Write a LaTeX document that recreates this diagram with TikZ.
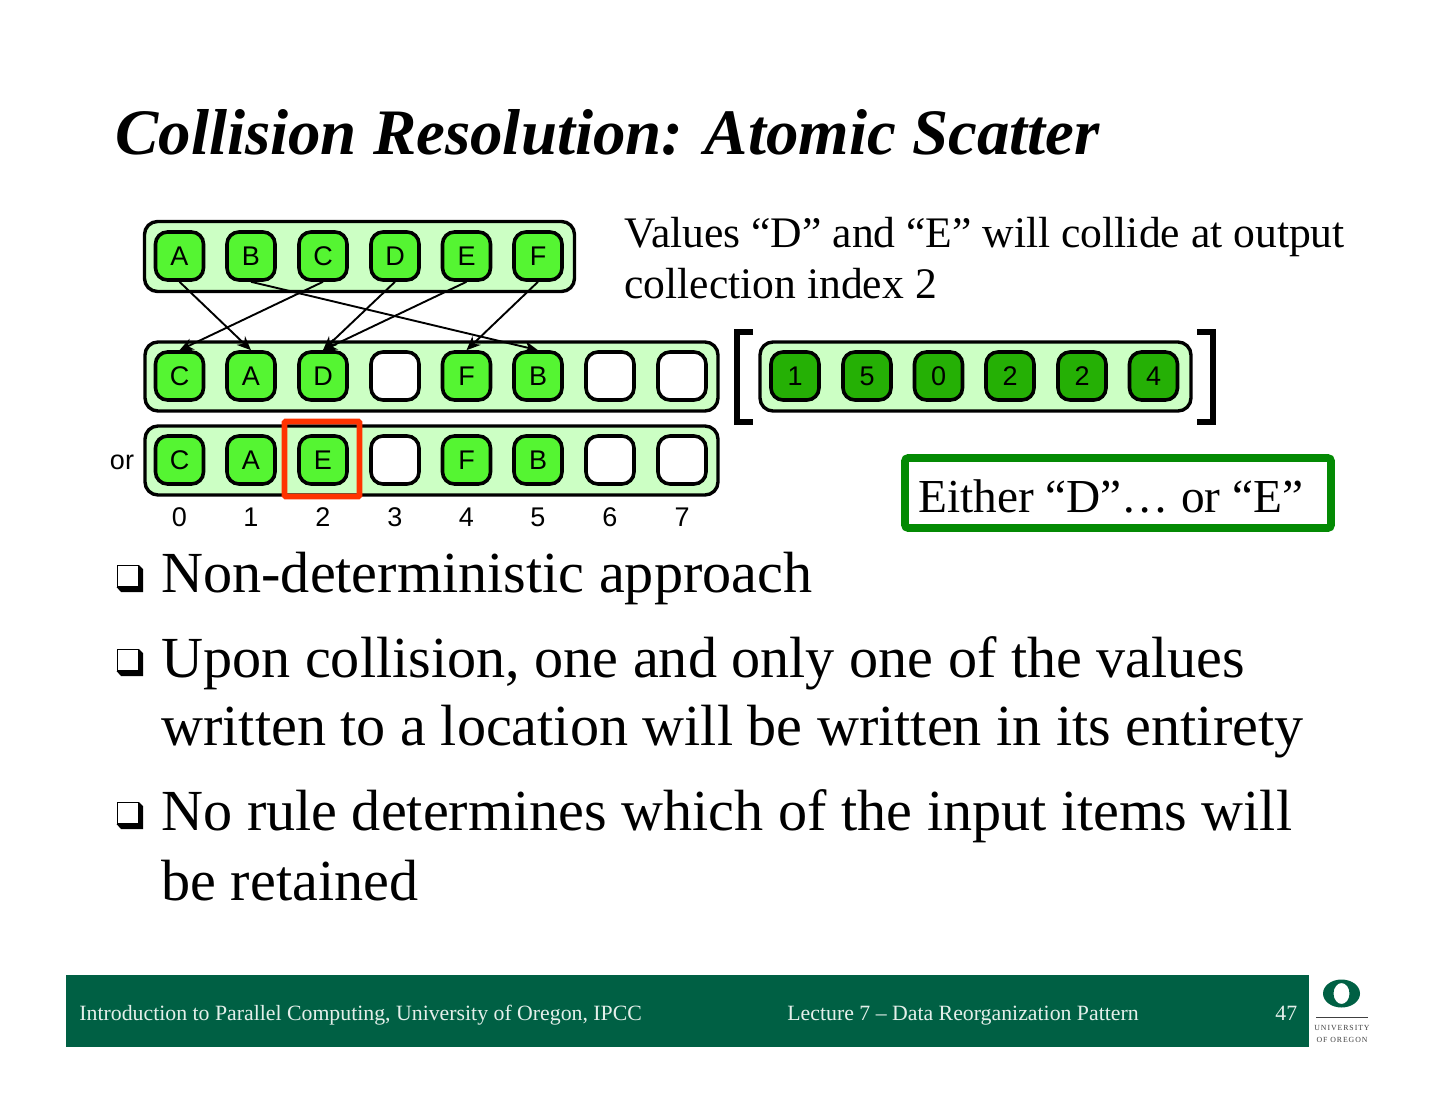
\documentclass[tikz,border=0pt]{standalone}
\usepackage{fontspec}
\setmainfont{Liberation Serif}
\newfontfamily\lsans{Liberation Sans}
\definecolor{lightg}{HTML}{CCFFC4}
\definecolor{itemg}{HTML}{55F532}
\definecolor{darkg}{HTML}{25B005}
\definecolor{footg}{HTML}{006044}
\definecolor{boxg}{HTML}{048A04}
\definecolor{redb}{HTML}{FF3300}
\definecolor{foottxt}{HTML}{E4EFEA}
\usetikzlibrary{arrows.meta}
\tikzset{
 x=0.5pt,y=-0.5pt,
 holder/.style={draw=black,line width=1.7pt,fill=lightg,rounded corners=6.5pt,inner sep=0pt,anchor=center},
 item/.style={draw=black,line width=1.8pt,rounded corners=6pt,minimum width=24pt,minimum height=24pt,inner sep=0pt,font=\lsans\fontsize{13.5}{15}\selectfont},
 full/.style={item,fill=itemg},
 blank/.style={item,fill=white},
 idx/.style={item,fill=darkg},
 lbl/.style={font=\lsans\fontsize{13.5}{15}\selectfont,inner sep=0pt},
 mv/.style={draw=black,line width=0.95pt,-{Stealth[length=7pt,width=6pt]}},
 body/.style={anchor=base west,inner sep=0pt,font=\fontsize{29.08}{32}\selectfont},
 note/.style={anchor=base west,inner sep=0pt,font=\fontsize{21.8}{24}\selectfont},
 foot/.style={anchor=base west,inner sep=0pt,text=foottxt,font=\fontsize{10.9}{13}\selectfont},
 brk/.style={draw=black,line width=2.6pt},
}
\newcommand{\bulletbox}[2]{%
 \node[draw=black,line width=0.5pt,fill=white,minimum width=10.5pt,minimum height=10.5pt,inner sep=0pt] (#1) at (128,#2+11) {};
 \fill[black] (116.5,#2+22) -- (121,#2+27) -- (143,#2+27) -- (143,#2+4) -- (139,#2) -- (139,#2+22) -- cycle;
}
\begin{document}
\begin{tikzpicture}
\useasboundingbox (0,0) rectangle (1440,1113);
\fill[white] (0,0) rectangle (1440,1113);
\node[anchor=base west,inner sep=0pt,font=\bfseries\itshape\fontsize{32.44}{36}\selectfont] (title) at (115,155) {Collision Resolution: Atomic Scatter};
% holders
\node[holder,minimum width=215pt,minimum height=35pt] (h1) at (359.5,256.5) {};
\node[holder,minimum width=286.5pt,minimum height=34.5pt] (h2) at (431.5,376.5) {};
\node[holder,minimum width=286.5pt,minimum height=34.5pt] (h3) at (431.5,460.5) {};
\node[holder,minimum width=215.5pt,minimum height=34.5pt] (h4) at (975.5,376.5) {};
% input
\foreach \n/\x in {A/179.5,B/251,C/323,D/395,E/466.5,F/538}
  \node[full] (in\n) at (\x,256) {\n};
% output 1
\node[full] (oa0) at (179.5,376) {C};
\node[full] (oa1) at (251,376) {A};
\node[full] (oa2) at (323,376) {D};
\node[blank] (oa3) at (395,376) {};
\node[full] (oa4) at (466.5,376) {F};
\node[full] (oa5) at (538,376) {B};
\node[blank] (oa6) at (610,376) {};
\node[blank] (oa7) at (682,376) {};
% output 2
\node[full] (ob0) at (179.5,460) {C};
\node[full] (ob1) at (251,460) {A};
\node[full] (ob2) at (323,460) {E};
\node[blank] (ob3) at (395,460) {};
\node[full] (ob4) at (466.5,460) {F};
\node[full] (ob5) at (538,460) {B};
\node[blank] (ob6) at (610,460) {};
\node[blank] (ob7) at (682,460) {};
% index vector
\node[idx] (v0) at (795,376) {1};
\node[idx] (v1) at (867,376) {5};
\node[idx] (v2) at (938.5,376) {0};
\node[idx] (v3) at (1010,376) {2};
\node[idx] (v4) at (1082,376) {2};
\node[idx] (v5) at (1153.5,376) {4};
% arrows
\draw[mv] (inA.south) -- (oa1.north);
\draw[mv] (inB.south) -- (oa5.north);
\draw[mv] (inC.south) -- (oa0.north);
\draw[mv] (inD.south) -- (oa2.north);
\draw[mv] (inE.south) -- (oa2.north);
\draw[mv] (inF.south) -- (oa4.north);
% brackets
\draw[brk] (753,332) -- (737,332) -- (737,422) -- (753,422);
\draw[brk] (1197,332) -- (1213,332) -- (1213,422) -- (1197,422);
% red box
\node[draw=redb,line width=2.8pt,rounded corners=0.5pt,minimum width=37.5pt,minimum height=37.5pt,inner sep=0pt] (redbox) at (322,459) {};
% labels
\node[lbl] (orl) at (122,462) {or};
\foreach \i/\x in {0/179.5,1/251,2/323,3/395,4/466.5,5/538,6/610,7/682}
  \node[lbl] (n\i) at (\x,517) {\i};
% notes
\node[note] (t1) at (624,247) {Values “D” and “E” will collide at output};
\node[note] (t2) at (624,298) {collection index 2};
\node[draw=boxg,line width=3.8pt,rounded corners=1.5pt,minimum width=213pt,minimum height=35pt,inner sep=0pt,fill=white] (either) at (1118,493) {};
\node[note,font=\fontsize{23.65}{27}\selectfont] (t3) at (918,512) {Either “D”… or “E”};
% bullets
\bulletbox{b1}{565}
\bulletbox{b2}{649}
\bulletbox{b3}{802}
\node[body] (l1) at (161,592) {Non-deterministic approach};
\node[body] (l2) at (161,677) {Upon collision, one and only one of the values};
\node[body] (l3) at (161,745) {written to a location will be written in its entirety};
\node[body] (l4) at (161,830) {No rule determines which of the input items will};
\node[body] (l5) at (161,900) {be retained};
% footer
\fill[footg] (66,975) rectangle (1309,1047);
\node[foot] (f1) at (79,1020) {Introduction to Parallel Computing, University of Oregon, IPCC};
\node[foot] (f2) at (787,1020) {Lecture 7 – Data Reorganization Pattern};
\node[foot] (f3) at (1275,1020) {47};
% logo
\fill[footg,even odd rule] (1341.5,993.5) ellipse [x radius=18.5,y radius=14] (1341.5,993.5) ellipse [x radius=8,y radius=10.5];
\draw[black!75,line width=0.5pt] (1316,1017) -- (1368,1017);
\node[inner sep=0pt,text=black!75,font=\addfontfeature{LetterSpace=12}\fontsize{3.9}{5}\selectfont] (u1) at (1342,1028) {UNIVERSITY};
\node[inner sep=0pt,text=black!75,font=\addfontfeature{LetterSpace=12}\fontsize{3.9}{5}\selectfont] (u2) at (1342,1040) {OF OREGON};
\end{tikzpicture}
\end{document}
